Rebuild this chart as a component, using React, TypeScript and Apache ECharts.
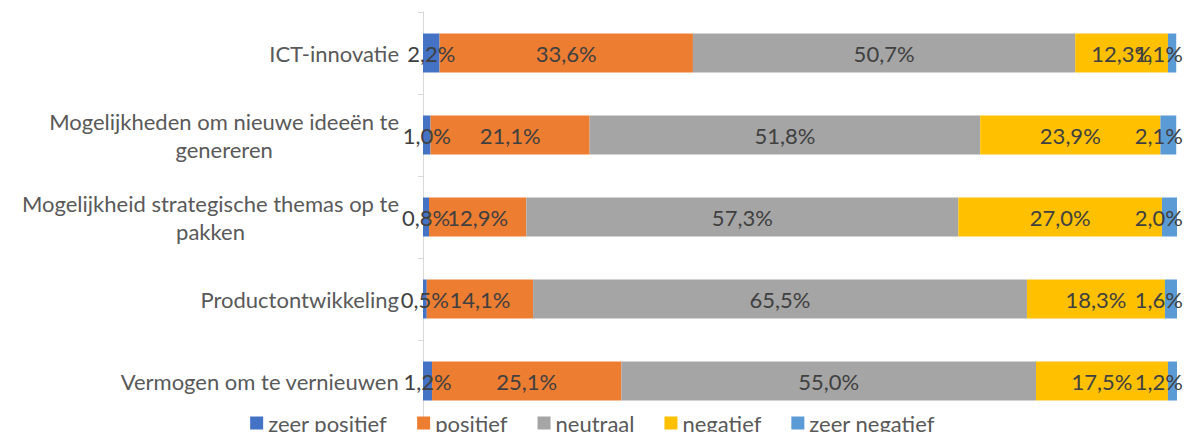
import React, { useEffect, useRef } from "react";
import * as echarts from "echarts";

const categories = [
  "ICT-innovatie",
  "Mogelijkheden om nieuwe ideeën te\ngenereren",
  "Mogelijkheid strategische themas op te\npakken",
  "Productontwikkeling",
  "Vermogen om te vernieuwen",
];
const seriesNames = ["zeer positief", "positief", "neutraal", "negatief", "zeer negatief"];
const zeerPositief = [2.2, 1.0, 0.8, 0.5, 1.2];
const positief = [33.6, 21.1, 12.9, 14.1, 25.1];
const neutraal = [50.7, 51.8, 57.3, 65.5, 55.0];
const negatief = [12.3, 23.9, 27.0, 18.3, 17.5];
const zeerNegatief = [1.1, 2.1, 2.0, 1.6, 1.2];
const seriesValues = [zeerPositief, positief, neutraal, negatief, zeerNegatief];
const colors = ["#4472C4", "#ED7D31", "#A5A5A5", "#FFC000", "#5B9BD5"];

const FONT = "Lato";
const FS = 22;

export default function App() {
  const ref = useRef<HTMLDivElement>(null);
  useEffect(() => {
    document.body.style.margin = "0";
    const chart = echarts.init(ref.current!, null, { renderer: "svg" });
    chart.setOption({
      animation: false,
      color: colors,
      grid: { left: 423, right: 8, top: 12, bottom: 10, containLabel: false },
      legend: {
        data: seriesNames,
        left: "center",
        top: 407,
        icon: "rect",
        itemWidth: 13,
        itemHeight: 13,
        itemGap: 30,
        textStyle: { color: "#595959", fontSize: FS, fontFamily: FONT },
      },
      xAxis: { type: "value", min: 0, max: 100, show: false },
      yAxis: {
        type: "category",
        inverse: true,
        data: categories,
        axisLine: { show: true, lineStyle: { color: "#D9D9D9", width: 1 } },
        axisTick: { show: true, length: 5, lineStyle: { color: "#D9D9D9" } },
        axisLabel: {
          margin: 24,
          color: "#595959",
          fontSize: FS,
          fontFamily: FONT,
          lineHeight: 28,
          formatter: (v: string) =>
            v
              .split("\n")
              .map((l) => `{c|${l}}`)
              .join("\n"),
          rich: {
            c: { align: "center", color: "#595959", fontSize: FS, fontFamily: FONT, lineHeight: 28 },
          },
        },
      },
      series: seriesNames.map((name, i) => ({
        name,
        type: "bar",
        stack: "total",
        barWidth: 39,
        data: seriesValues[i],
        label: {
          show: true,
          position: "inside",
          color: "#404040",
          fontSize: FS,
          fontFamily: FONT,
          formatter: (p: any) => p.value.toFixed(1).replace(".", ",") + "%",
        },
        labelLayout: (params: any) => {
          const r = params.labelRect;
          const over = r.x + r.width - 1183;
          return over > 0 ? { dx: -over } : {};
        },
      })),
    });
    return () => chart.dispose();
  }, []);
  return <div ref={ref} style={{ width: 1185, height: 432, overflow: "hidden" }} />;
}
